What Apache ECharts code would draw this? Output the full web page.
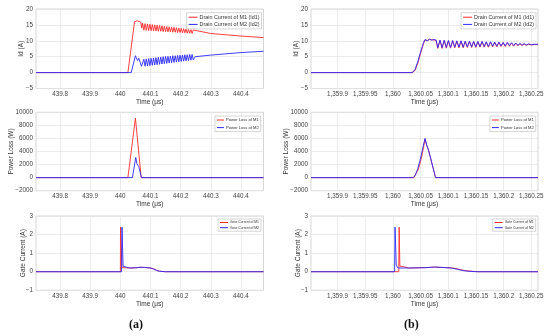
<!DOCTYPE html>
<html><head><meta charset="utf-8">
<script src="https://cdn.jsdelivr.net/npm/echarts@6/dist/echarts.min.js"></script>
<style>html,body{margin:0;padding:0;background:#fff}#c{width:550px;height:336px}</style>
</head><body><div id="c"></div>
<script>
// ---------- tick labels ----------
const xTickValsA = [439.8, 439.9, 440.0, 440.1, 440.2, 440.3, 440.4];
const xTickLabsA = ['439.8', '439.9', '440', '440.1', '440.2', '440.3', '440.4'];
const xTickValsB = [1359.9, 1359.95, 1360.0, 1360.05, 1360.1, 1360.15, 1360.2, 1360.25];
const xTickLabsB = ['1,359.9', '1,359.95', '1,360', '1,360.05', '1,360.1', '1,360.15', '1,360.2', '1,360.25'];

// ---------- (a) drain current ----------
const tId1A = [439.72, 440.025, 440.047, 440.052, 440.056, 440.062, 440.068, 440.071,
  440.074, 440.078, 440.082, 440.086, 440.090, 440.094, 440.098, 440.102, 440.106, 440.110,
  440.114, 440.118, 440.122, 440.126, 440.130, 440.134, 440.138, 440.142, 440.146, 440.150,
  440.154, 440.158, 440.162, 440.166, 440.170, 440.174, 440.178, 440.182, 440.186, 440.190,
  440.194, 440.198, 440.202, 440.206, 440.210, 440.214, 440.218, 440.222, 440.226, 440.230,
  440.234, 440.238, 440.242, 440.248, 440.30, 440.35, 440.40, 440.475];
const vId1A = [0, 0, 16.0, 16.4, 16.3, 16.0, 15.8, 14.0,
  15.5, 13.3, 15.4, 13.3, 15.3, 13.2, 15.2, 13.2, 15.1, 13.1,
  15.0, 13.1, 14.9, 13.0, 14.8, 13.0, 14.7, 12.9, 14.6, 12.9,
  14.5, 12.8, 14.4, 12.8, 14.3, 12.7, 14.2, 12.7, 14.1, 12.6,
  14.0, 12.6, 13.9, 12.5, 13.8, 12.5, 13.7, 12.4, 13.6, 12.4,
  13.5, 12.3, 13.4, 12.8, 12.3, 11.9, 11.5, 11.0];
const tId2A = [439.72, 440.036, 440.050, 440.053, 440.057, 440.061, 440.065, 440.070,
  440.074, 440.078, 440.082, 440.086, 440.090, 440.094, 440.098, 440.102, 440.106, 440.110,
  440.114, 440.118, 440.122, 440.126, 440.130, 440.134, 440.138, 440.142, 440.146, 440.150,
  440.154, 440.158, 440.162, 440.166, 440.170, 440.174, 440.178, 440.182, 440.186, 440.190,
  440.194, 440.198, 440.202, 440.206, 440.210, 440.214, 440.218, 440.222, 440.226, 440.230,
  440.234, 440.238, 440.242, 440.248, 440.30, 440.35, 440.40, 440.475];
const vId2A = [0, 0, 5.3, 4.6, 3.8, 4.5, 4.2, 2.0,
  1.9, 4.2, 2.0, 4.3, 2.1, 4.4, 2.2, 4.5, 2.3, 4.6,
  2.4, 4.7, 2.5, 4.8, 2.6, 4.9, 2.7, 5.0, 2.8, 5.1,
  2.9, 5.1, 3.0, 5.2, 3.1, 5.3, 3.2, 5.3, 3.3, 5.4,
  3.4, 5.5, 3.5, 5.5, 3.6, 5.6, 3.7, 5.6, 3.8, 5.7,
  3.9, 5.7, 4.0, 5.0, 5.5, 5.9, 6.3, 6.7];

// ---------- (b) drain current ----------
const tIdB = [1359.852, 1360.035, 1360.040, 1360.045, 1360.050, 1360.055, 1360.058, 1360.062,
  1360.066, 1360.070, 1360.074, 1360.078, 1360.081,
  1360.0850, 1360.0888, 1360.0926, 1360.0964, 1360.1002, 1360.1040, 1360.1078, 1360.1116,
  1360.1154, 1360.1192, 1360.1230, 1360.1268, 1360.1306, 1360.1344, 1360.1382, 1360.1420,
  1360.1458, 1360.1496, 1360.1534, 1360.1572, 1360.1610, 1360.1648, 1360.1686, 1360.1724,
  1360.1762, 1360.1800, 1360.1838, 1360.1876, 1360.1914, 1360.1952, 1360.1990, 1360.2028,
  1360.2066, 1360.2104, 1360.2142, 1360.2180, 1360.2218, 1360.2256, 1360.2294, 1360.2332,
  1360.237, 1360.241, 1360.245, 1360.250, 1360.255, 1360.262];
const vId2B = [0, 0, 1.0, 3.5, 6.5, 9.3, 10.4, 10.0,
  10.5, 10.2, 10.4, 10.2, 7.8,
  10.2, 7.8, 10.2, 7.9, 10.1, 7.9, 10.1, 8.0,
  10.0, 8.0, 10.0, 8.0, 9.9, 8.1, 9.9, 8.1,
  9.8, 8.1, 9.8, 8.2, 9.8, 8.2, 9.7, 8.2,
  9.7, 8.3, 9.6, 8.3, 9.6, 8.4, 9.5, 8.4,
  9.5, 8.5, 9.4, 8.5, 9.3, 8.6, 9.2, 8.6,
  9.1, 8.7, 9.0, 8.8, 8.9, 8.9];
const vId1B = [0, 0, 0.7, 3.0, 6.1, 9.0, 10.3, 10.1,
  10.4, 10.3, 10.3, 10.1, 7.6,
  10.1, 7.6, 10.1, 7.7, 10.0, 7.7, 10.0, 7.8,
  9.9, 7.8, 9.9, 7.8, 9.8, 7.9, 9.8, 7.9,
  9.7, 7.9, 9.7, 8.0, 9.7, 8.0, 9.6, 8.0,
  9.6, 8.1, 9.5, 8.1, 9.5, 8.2, 9.4, 8.2,
  9.4, 8.3, 9.3, 8.3, 9.2, 8.4, 9.1, 8.5,
  9.0, 8.6, 8.9, 8.7, 8.8, 8.8];

// ---------- power loss ----------
const tP1A = [439.72, 440.025, 440.050, 440.069, 440.475];
const vP1A = [0, 0, 9100, 0, 0];
const tP2A = [439.72, 440.040, 440.051, 440.055, 440.058, 440.061, 440.070, 440.475];
const vP2A = [0, 0, 3100, 2100, 1900, 1700, 0, 0];
const tP2B = [1359.852, 1360.036, 1360.040, 1360.045, 1360.050, 1360.054, 1360.058, 1360.061, 1360.064, 1360.067, 1360.077, 1360.262];
const vP2B = [0, 0, 300, 1400, 3000, 4600, 6000, 5000, 4300, 4000, 0, 0];
const tP1B = [1359.852, 1360.038, 1360.041, 1360.046, 1360.051, 1360.055, 1360.058, 1360.061, 1360.064, 1360.067, 1360.077, 1360.262];
const vP1B = [0, 0, 200, 1300, 2900, 4500, 5900, 4900, 4300, 4000, 0, 0];

// ---------- gate current ----------
const tG1A = [439.72, 440.000, 440.0005, 440.005, 440.008, 440.03, 440.05, 440.065, 440.08, 440.10, 440.11, 440.12, 440.13, 440.15, 440.475];
const vG1A = [0, 0, 2.4, 0.22, 0.2, 0.2, 0.21, 0.24, 0.23, 0.2, 0.16, 0.08, 0.03, 0, 0];
const tG2A = [439.72, 440.004, 440.0055, 440.009, 440.012, 440.03, 440.05, 440.065, 440.08, 440.10, 440.11, 440.12, 440.13, 440.15, 440.475];
const vG2A = [0, 0, 2.4, 0.3, 0.2, 0.2, 0.21, 0.24, 0.23, 0.2, 0.15, 0.07, 0.02, 0, 0];
const tG2B = [1359.852, 1360.003, 1360.0038, 1360.006, 1360.009, 1360.03, 1360.06, 1360.075, 1360.09, 1360.105, 1360.115, 1360.125, 1360.135, 1360.15, 1360.262];
const vG2B = [0, 0, 2.4, 0.35, 0.2, 0.2, 0.22, 0.25, 0.23, 0.2, 0.14, 0.07, 0.03, 0, 0];
const tG1B = [1359.852, 1360.0105, 1360.0112, 1360.0125, 1360.016, 1360.03, 1360.06, 1360.075, 1360.09, 1360.108, 1360.118, 1360.128, 1360.14, 1360.155, 1360.262];
const vG1B = [0, 0, 2.4, 0.3, 0.2, 0.2, 0.22, 0.25, 0.23, 0.2, 0.14, 0.07, 0.03, 0, 0];

// ---------- names ----------
const legendId = ['Drain Current of M1 (Id1)', 'Drain Current of M2 (Id2)'];
const legendP = ['Power Loss of M1', 'Power Loss of M2'];
const legendG = ['Gate Current of M1', 'Gate Current of M2'];
const yNames = ['Id (A)', 'Power Loss (W)', 'Gate Current (A)'];
const panelLabels = ['(a)', '(b)'];

const FONT = 'Liberation Sans';
const RED = '#ff2a2a', BLUE = '#2a2aff';
const pairs = (t, v) => t.map((x, i) => [x, v[i]]);
const minus = v => (v < 0 ? '\u2212' + Math.abs(v) : String(v));

const colLeft = [36, 311];
const colW = [227.5, 227];
const rowTop = [9, 112.3, 216];
const rowH = [79.5, 78.4, 74.3];
const xRange = [[439.72, 440.475], [1359.852, 1360.262]];
const yCfg = [{min: -5, max: 20, interval: 5, gap: 11.5}, {min: -2000, max: 10000, interval: 2000, gap: 21}, {min: -1, max: 3, interval: 1, gap: 9.5}];

const grid = [], xAxis = [], yAxis = [];
for (let r = 0; r < 3; r++) {
  for (let c = 0; c < 2; c++) {
    grid.push({left: colLeft[c], top: rowTop[r], width: colW[c], height: rowH[r],
      show: true, borderColor: '#c4c4c4', borderWidth: 0.7, backgroundColor: '#fff'});
    const vals = c === 0 ? xTickValsA : xTickValsB;
    const labs = c === 0 ? xTickLabsA : xTickLabsB;
    const idx = grid.length - 1;
    xAxis.push({type: 'value', gridIndex: idx, min: xRange[c][0], max: xRange[c][1],
      name: 'Time (\u03bcs)', nameLocation: 'middle', nameGap: 10, nameMoveOverlap: false,
      nameTextStyle: {fontFamily: FONT, fontSize: 6.5, color: '#333'},
      axisLine: {show: false}, axisTick: {show: false, customValues: vals},
      axisLabel: {customValues: vals, fontFamily: FONT, fontSize: 6.3, color: '#444', margin: 3,
        formatter: v => { let b = 0; vals.forEach((x, i) => { if (Math.abs(x - v) < Math.abs(vals[b] - v)) b = i; }); return labs[b]; }},
      splitLine: {show: true, lineStyle: {color: '#e4e4e4', width: 0.7}}});
    yAxis.push({type: 'value', gridIndex: idx, min: yCfg[r].min, max: yCfg[r].max, interval: yCfg[r].interval,
      name: yNames[r], nameLocation: 'middle', nameGap: yCfg[r].gap, nameMoveOverlap: false,
      nameTextStyle: {fontFamily: FONT, fontSize: 6.5, color: '#333'},
      axisLine: {show: false}, axisTick: {show: false},
      axisLabel: {fontFamily: FONT, fontSize: 6.3, color: '#444', margin: 3, formatter: minus},
      splitLine: {show: true, lineStyle: {color: '#e4e4e4', width: 0.7}}});
  }
}

function line(name, idx, t, v, color) {
  return {type: 'line', name, xAxisIndex: idx, yAxisIndex: idx, data: pairs(t, v),
    symbol: 'none', showSymbol: false, lineStyle: {color, width: 0.9}, itemStyle: {color}, z: 3};
}
const series = [
  line(legendId[0], 0, tId1A, vId1A, RED), line(legendId[1], 0, tId2A, vId2A, BLUE),
  line(legendId[0], 1, tIdB, vId1B, RED), line(legendId[1], 1, tIdB, vId2B, BLUE),
  line(legendP[0], 2, tP1A, vP1A, RED), line(legendP[1], 2, tP2A, vP2A, BLUE),
  line(legendP[0], 3, tP1B, vP1B, RED), line(legendP[1], 3, tP2B, vP2B, BLUE),
  line(legendG[0], 4, tG1A, vG1A, RED), line(legendG[1], 4, tG2A, vG2A, BLUE),
  line(legendG[0], 5, tG1B, vG1B, RED), line(legendG[1], 5, tG2B, vG2B, BLUE)
];

function leg(data, right, top, fs, iw, gap) {
  return {data, right, top, orient: 'vertical', icon: 'rect', itemWidth: iw, itemHeight: 1, itemGap: gap,
    padding: [2, 2, 2, 2], backgroundColor: '#fff', borderColor: '#b8b8b8', borderWidth: 0.6,
    selectedMode: false, textStyle: {fontFamily: FONT, fontSize: fs, color: '#333', padding: [0, 0, 0, -3]}};
}
const legend = [
  leg(legendId, 288.5, 12.7, 5.4, 9, 2.2),
  leg(legendId, 14, 12.7, 5.4, 9, 2.2),
  leg(legendP, 289.3, 116, 4.1, 7, 3.6),
  leg(legendP, 14.3, 116, 4.1, 7, 3.6),
  leg(legendG, 289, 219, 3.4, 8, 2.2),
  leg(legendG, 14.3, 219, 3.4, 8, 2.2)
];

const chart = echarts.init(document.getElementById('c'), null, {renderer: 'canvas'});
chart.setOption({
  animation: false,
  backgroundColor: '#fff',
  grid, xAxis, yAxis, series, legend,
  graphic: [
    {type: 'text', left: 129, top: 319, style: {text: panelLabels[0], font: 'bold 12px "Liberation Serif"', fill: '#111'}},
    {type: 'text', left: 404, top: 319, style: {text: panelLabels[1], font: 'bold 12px "Liberation Serif"', fill: '#111'}}
  ]
});
</script></body></html>
